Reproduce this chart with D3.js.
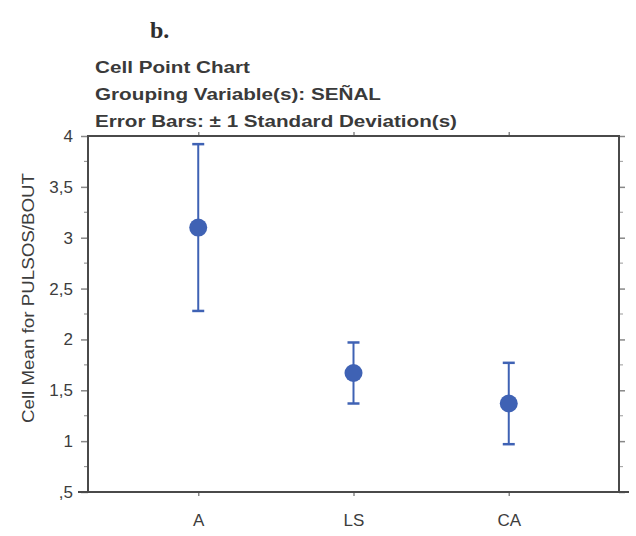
<!DOCTYPE html>
<html>
<head>
<meta charset="utf-8">
<script src="https://cdn.jsdelivr.net/npm/d3@7"></script>
<style>
  html, body { margin: 0; padding: 0; background: #fff; }
  svg { display: block; }
</style>
</head>
<body>
<script>
// Cell means of PULSOS/BOUT by SEÑAL, with ±1 standard deviation
const categories = ["A", "LS", "CA"];
const means = [3.10, 1.67, 1.37];
const stdDevs = [0.82, 0.30, 0.40];
const yTickValues = [0.5, 1, 1.5, 2, 2.5, 3, 3.5, 4];
const yTickLabels = [",5", "1", "1,5", "2", "2,5", "3", "3,5", "4"];
const titleLines = [
  "Cell Point Chart",
  "Grouping Variable(s): SEÑAL",
  "Error Bars: ± 1 Standard Deviation(s)"
];

const W = 636, H = 536;
const margin = { left: 88, right: 17, top: 136, bottom: 44 };
const innerW = W - margin.left - margin.right;
const innerH = H - margin.top - margin.bottom;

const svg = d3.select("body").append("svg")
  .attr("width", W).attr("height", H);

const ink = "#3d3d3d";
const blue = "#3f62b4";

const x = d3.scalePoint().domain(categories).range([0, innerW]).padding(0.71);
const y = d3.scaleLinear().domain([0.5, 4]).range([innerH, 0]);

const g = svg.append("g").attr("transform", `translate(${margin.left},${margin.top})`);

// panel label
svg.append("text")
  .attr("x", 150).attr("y", 38)
  .attr("font-family", "Liberation Serif, DejaVu Serif, serif")
  .attr("font-weight", "bold").attr("font-size", 24)
  .attr("fill", "#2e2e2e")
  .text("b.");

// title block
const titleWidths = [155, 286, 362];
svg.append("g").selectAll("text").data(titleLines).join("text")
  .attr("x", 95).attr("y", (d, i) => 73 + i * 27)
  .attr("font-family", "Liberation Sans, Arial, sans-serif")
  .attr("font-weight", "bold").attr("font-size", 16)
  .attr("fill", "#3a3a3a")
  .attr("textLength", (d, i) => titleWidths[i])
  .attr("lengthAdjust", "spacingAndGlyphs")
  .text(d => d);

const minorTicks = d3.range(0.75, 4, 0.5);

// left axis
const yAxis = d3.axisLeft(y).tickValues(yTickValues)
  .tickFormat((d, i) => yTickLabels[i]).tickSize(7).tickPadding(8);
const yAxisG = g.append("g").call(yAxis);
yAxisG.select(".domain").remove();
yAxisG.selectAll("line").attr("stroke", "#888").attr("stroke-width", 1.5);
yAxisG.selectAll("text")
  .attr("font-family", "Liberation Sans, Arial, sans-serif")
  .attr("font-size", 17).attr("fill", ink);
g.append("g").selectAll("line").data(minorTicks).join("line")
  .attr("x1", -4).attr("x2", 0)
  .attr("y1", d => y(d)).attr("y2", d => y(d))
  .attr("stroke", "#999").attr("stroke-width", 1.2);

// right axis ticks
const yAxisR = d3.axisRight(y).tickValues(yTickValues).tickFormat("").tickSize(6);
const yAxisRG = g.append("g").attr("transform", `translate(${innerW},0)`).call(yAxisR);
yAxisRG.select(".domain").remove();
yAxisRG.selectAll("line").attr("stroke", "#888").attr("stroke-width", 1.5);
g.append("g").selectAll("line").data(minorTicks).join("line")
  .attr("x1", innerW).attr("x2", innerW + 4)
  .attr("y1", d => y(d)).attr("y2", d => y(d))
  .attr("stroke", "#aaa").attr("stroke-width", 1.2);

// bottom axis
const xAxis = d3.axisBottom(x).tickSize(4).tickPadding(18);
const xAxisG = g.append("g").attr("transform", `translate(0,${innerH})`).call(xAxis);
xAxisG.select(".domain").remove();
xAxisG.selectAll("line").attr("stroke", "#888").attr("stroke-width", 1.5);
xAxisG.selectAll("text")
  .attr("font-family", "Liberation Sans, Arial, sans-serif")
  .attr("font-size", 17).attr("fill", ink);

// top axis ticks
const xAxisT = d3.axisTop(x).tickSize(4).tickFormat("");
const xAxisTG = g.append("g").call(xAxisT);
xAxisTG.select(".domain").remove();
xAxisTG.selectAll("line").attr("stroke", "#888").attr("stroke-width", 1.5);

// frame
g.append("rect")
  .attr("x", 0).attr("y", 0).attr("width", innerW).attr("height", innerH)
  .attr("fill", "none").attr("stroke", "#4a4a4a").attr("stroke-width", 2);
// bottom baseline extends slightly past the frame
g.append("line")
  .attr("x1", -10).attr("x2", innerW + 10)
  .attr("y1", innerH).attr("y2", innerH)
  .attr("stroke", "#4a4a4a").attr("stroke-width", 2);

// y-axis title
svg.append("text")
  .attr("transform", "translate(34,298) rotate(-90)")
  .attr("text-anchor", "middle")
  .attr("font-family", "Liberation Sans, Arial, sans-serif")
  .attr("font-size", 17).attr("fill", ink)
  .attr("textLength", 250)
  .attr("lengthAdjust", "spacingAndGlyphs")
  .text("Cell Mean for PULSOS/BOUT");

// error bars and points
const rows = categories.map((c, i) => ({ c, m: means[i], s: stdDevs[i] }));
const cells = g.append("g").selectAll("g").data(rows).join("g")
  .attr("transform", d => `translate(${x(d.c)},0)`);
cells.append("line")
  .attr("y1", d => y(d.m + d.s)).attr("y2", d => y(d.m - d.s))
  .attr("stroke", blue).attr("stroke-width", 2);
cells.append("line")
  .attr("x1", -6).attr("x2", 6)
  .attr("y1", d => y(d.m + d.s)).attr("y2", d => y(d.m + d.s))
  .attr("stroke", blue).attr("stroke-width", 2.5);
cells.append("line")
  .attr("x1", -6).attr("x2", 6)
  .attr("y1", d => y(d.m - d.s)).attr("y2", d => y(d.m - d.s))
  .attr("stroke", blue).attr("stroke-width", 2.5);
cells.append("circle")
  .attr("cy", d => y(d.m)).attr("r", 9)
  .attr("fill", blue);
</script>
</body>
</html>
